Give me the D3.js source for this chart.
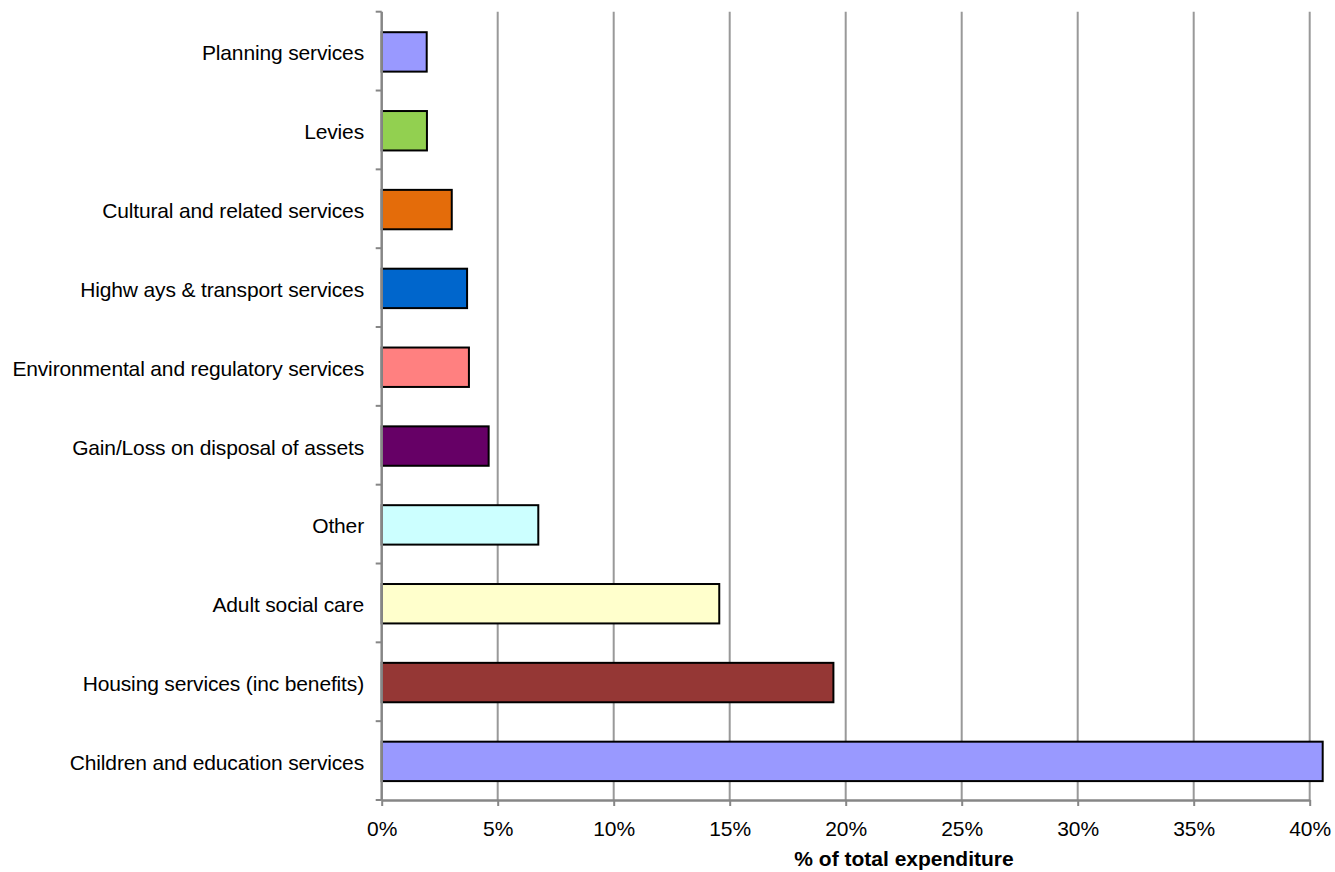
<!DOCTYPE html>
<html><head><meta charset="utf-8">
<script src="https://cdn.jsdelivr.net/npm/d3@7"></script>
<style>body{margin:0;background:#fff}svg{display:block}text{font-family:"Liberation Sans",Arial,sans-serif}</style>
</head><body><svg id="c" width="1335" height="872"></svg>
<script>
const categories = ["Planning services","Levies","Cultural and related services","Highw ays & transport services","Environmental and regulatory services","Gain/Loss on disposal of assets","Other","Adult social care","Housing services (inc benefits)","Children and education services"];
const values = [1.94, 1.95, 3.02, 3.68, 3.76, 4.61, 6.75, 14.55, 19.47, 40.56];
const colors = ["#9999FF","#92D050","#E46C0A","#0066CC","#FF8080","#660066","#CCFFFF","#FFFFCC","#953735","#9999FF"];
const xTicks = [0,5,10,15,20,25,30,35,40];
const xTitle = "% of total expenditure";

const svg = d3.select("#c");
const L = 381.7, R = 1309.7, T = 11.7, B = 800;
const x = d3.scaleLinear().domain([0,40]).range([L,R]);
const y = d3.scaleBand().domain(categories).range([T,B]).paddingInner(0.5).paddingOuter(0.25);

// gridlines
svg.append("g").selectAll("line").data(xTicks.slice(1)).join("line")
  .attr("x1",d=>x(d)).attr("x2",d=>x(d)).attr("y1",T).attr("y2",B)
  .attr("stroke","#999").attr("stroke-width",2);

// bars
svg.append("g").selectAll("rect").data(categories).join("rect")
  .attr("x",x(0)).attr("y",d=>y(d)+0.8)
  .attr("width",(d,i)=>x(values[i])-x(0)).attr("height",y.bandwidth())
  .attr("fill",(d,i)=>colors[i]).attr("stroke","#000").attr("stroke-width",2);

// x axis
const xa = svg.append("g").attr("transform",`translate(0,${B})`)
  .call(d3.axisBottom(x).tickValues(xTicks).tickFormat(d=>d+"%").tickSize(6).tickSizeOuter(0));
xa.select(".domain").attr("stroke","#868686").attr("stroke-width",2.5);
xa.selectAll(".tick line").attr("stroke","#868686").attr("stroke-width",2);
xa.selectAll(".tick text").attr("font-size",21).attr("fill","#000").attr("y",0).attr("dy",36)
  .attr("font-family","'Liberation Sans',Arial,sans-serif");

// y axis: line and ticks at band boundaries
const yl = svg.append("g");
yl.append("line").attr("x1",L).attr("x2",L).attr("y1",T).attr("y2",B).attr("stroke","#868686").attr("stroke-width",2.5);
const step = y.step();
yl.selectAll("line.t").data(d3.range(categories.length+1)).join("line").attr("class","t")
  .attr("x1",L-6).attr("x2",L).attr("y1",i=>T+i*step).attr("y2",i=>T+i*step)
  .attr("stroke","#868686").attr("stroke-width",2);

// y labels
svg.append("g").selectAll("text").data(categories).join("text")
  .attr("x",364).attr("y",d=>y(d)+y.bandwidth()/2+2).attr("dy","0.35em")
  .attr("text-anchor","end").attr("font-size",21).attr("letter-spacing","-0.15px")
  .text(d=>d);

svg.append("text").attr("x",904).attr("y",866).attr("text-anchor","middle")
  .attr("font-size",21).attr("font-weight","bold").text(xTitle);
</script></body></html>
